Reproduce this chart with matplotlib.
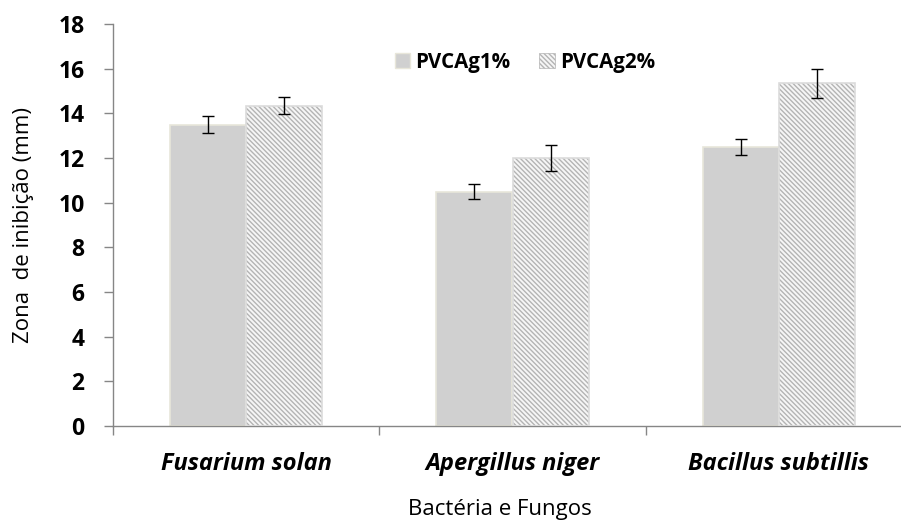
import matplotlib
matplotlib.use("Agg")
import matplotlib.pyplot as plt
import numpy as np
from matplotlib.patches import Patch

categories = ["Fusarium solan", "Apergillus niger", "Bacillus subtillis"]
series_names = ["PVCAg1%", "PVCAg2%"]
pvcag1 = [13.5, 10.5, 12.5]
pvcag1_err = [0.36, 0.33, 0.35]
pvcag2 = [14.35, 12.0, 15.35]
pvcag2_err = [0.36, 0.6, 0.65]
yticks = [0, 2, 4, 6, 8, 10, 12, 14, 16, 18]

FONT = ["Open Sans", "DejaVu Sans"]
plt.rcParams['font.family'] = FONT
plt.rcParams['hatch.linewidth'] = 1.0

fig = plt.figure(figsize=(9.01, 5.23), dpi=100)
ax = fig.add_axes([113/901, 97/523, 799/901, 402/523])

x = np.arange(len(categories)) + 0.5
w = 0.285
off = 0.143
edge = "#e8e6da"
HATCH = "\\" * 7

ax.bar(x - off, pvcag1, width=w, color="#d0d0d0", edgecolor=edge, linewidth=1.2, zorder=2)
# hatched second series: hatch layer then edge layer
ax.bar(x + off, pvcag2, width=w, color="#f6f6f6", edgecolor="#b4b4b4", hatch=HATCH, linewidth=0, zorder=2)
ax.bar(x + off, pvcag2, width=w, color="none", edgecolor="#dcdcdc", linewidth=1.2, zorder=3)

ax.errorbar(x - off, pvcag1, yerr=pvcag1_err, fmt="none", ecolor="black", elinewidth=1, capsize=4, capthick=1, zorder=4)
ax.errorbar(x + off, pvcag2, yerr=pvcag2_err, fmt="none", ecolor="black", elinewidth=1, capsize=4, capthick=1, zorder=4)

ax.set_xlim(0, 3)
ax.set_ylim(0, 18)
ax.set_yticks(yticks)
ax.set_yticklabels([str(t) for t in yticks], fontsize=16.5, fontweight="bold")
ax.set_xticks([0, 1, 2, 3])
ax.set_xticklabels([])
ax.set_xticks(x, minor=True)
ax.set_xticklabels(categories, minor=True, fontsize=17, fontweight="bold", style="italic")
ax.tick_params(axis="x", which="minor", length=0, pad=19)
ax.tick_params(axis="x", which="major", length=6.5, color="#868686", width=1)
ax.tick_params(axis="y", length=6.5, color="#868686", width=1, pad=14)

for s in ["top", "right"]:
    ax.spines[s].set_visible(False)
for s in ["left", "bottom"]:
    ax.spines[s].set_color("#868686")
    ax.spines[s].set_linewidth(1)

ax.set_ylabel("Zona  de inibição (mm)", fontsize=16)
ax.yaxis.set_label_coords(-0.099, 0.5)
fig.text(500/901, 1 - 510/523, "Bactéria e Fungos", fontsize=16, ha="center", va="center")

handles = [Patch(facecolor="#d0d0d0", edgecolor=edge),
           Patch(facecolor="#f6f6f6", edgecolor="#b4b4b4", hatch=HATCH, linewidth=0.5)]
leg = ax.legend(handles, series_names, ncol=2, frameon=False,
                loc="center", bbox_to_anchor=(525/901, 1 - 62/523), bbox_transform=fig.transFigure,
                prop={"size": 14.8, "weight": "bold"}, handlelength=0.75, handleheight=0.75,
                handletextpad=0.25, columnspacing=1.4)

fig.savefig("out.png", dpi=100)
